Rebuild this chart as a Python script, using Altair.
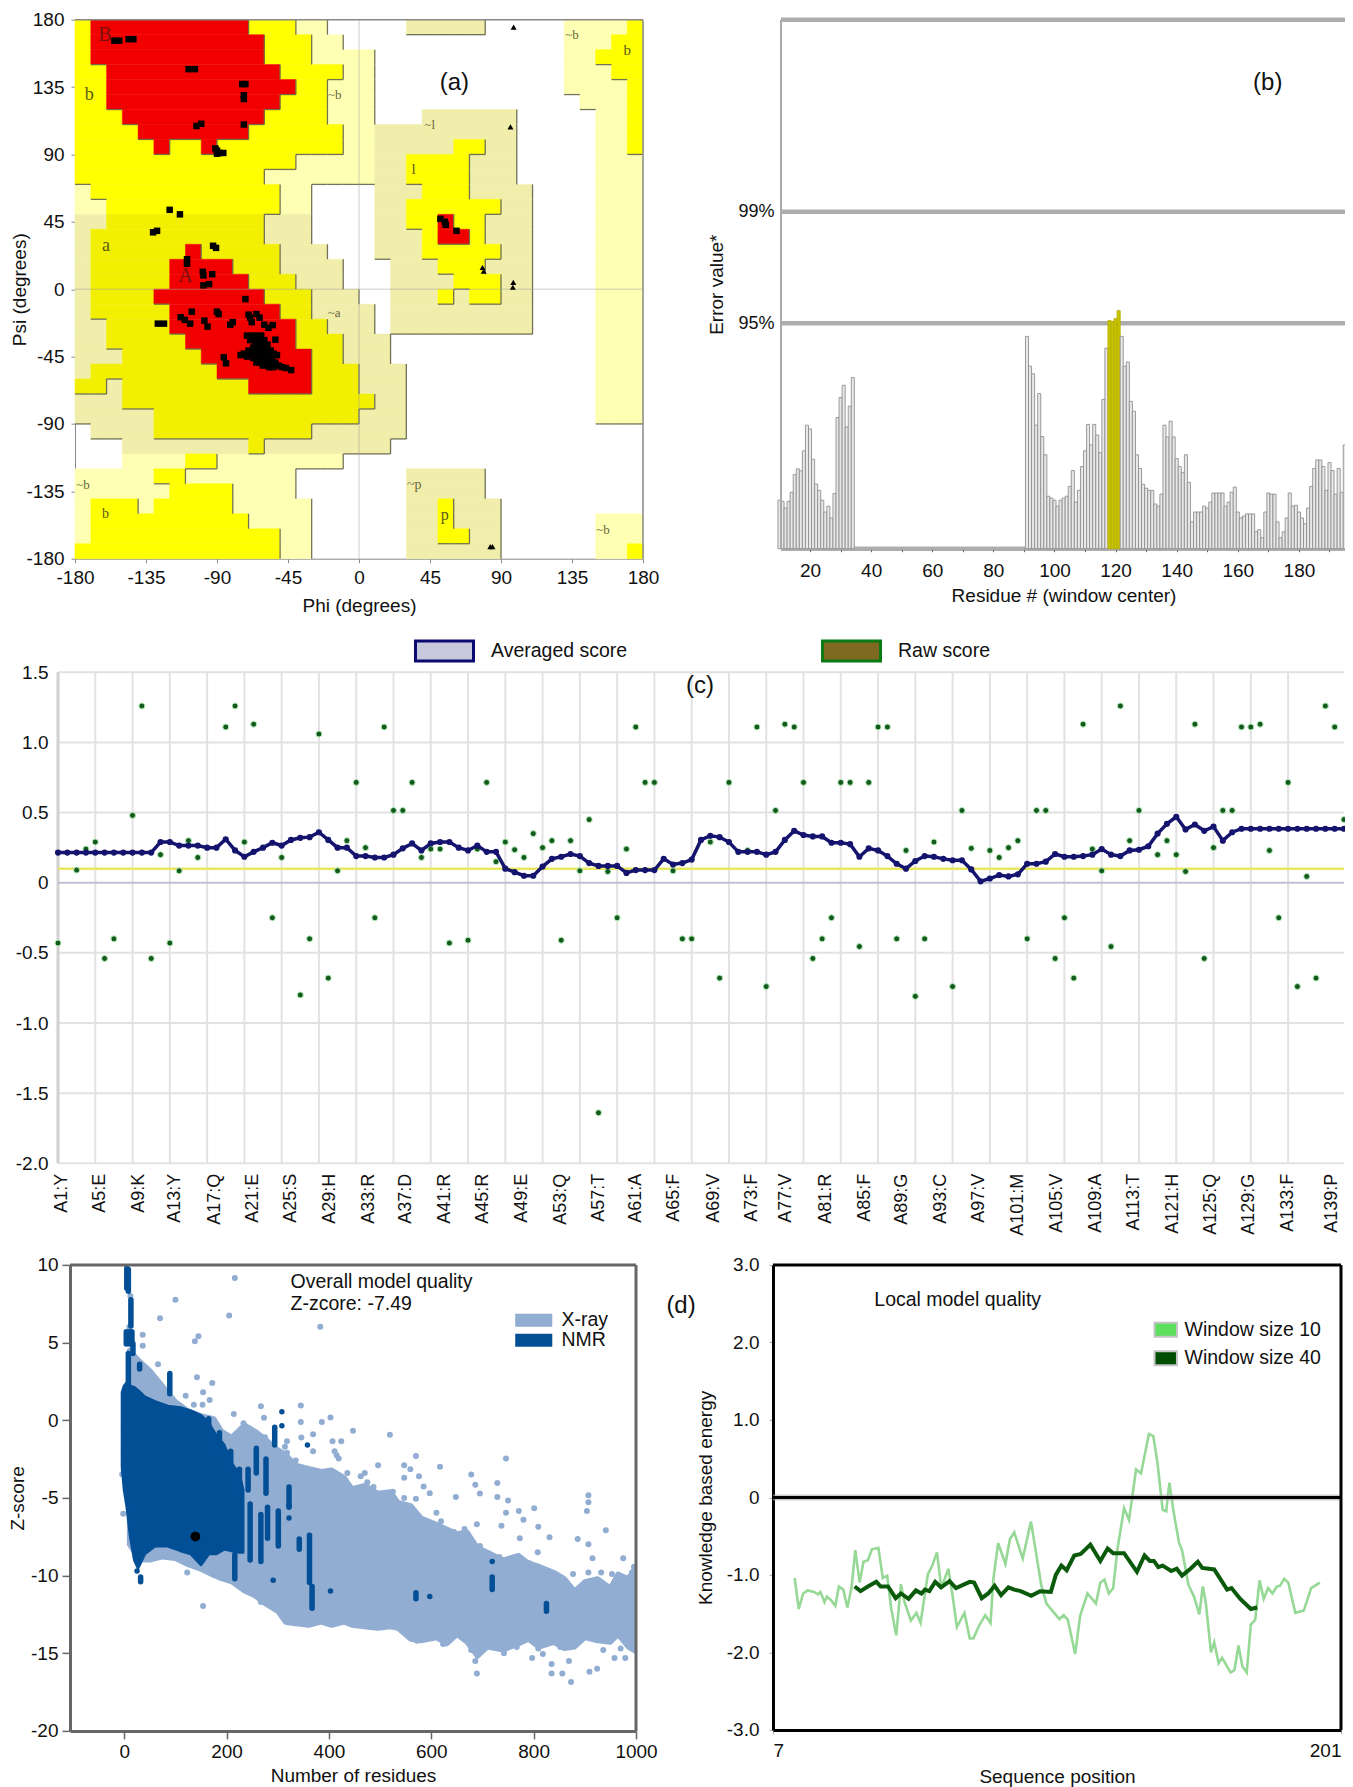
import altair as alt
import pandas as pd

FONT = "Liberation Sans"
SERIF = "Liberation Serif"

# ---------------- (a) Ramachandran plot ----------------
rama_rows = [
 (170, "Y-170 R-70 Y-40 P-20 W30 p80 W130 P170 Y180"),
 (160, "Y-170 R-60 Y-30 P-10 W130 P160 Y180"),
 (150, "Y-170 R-60 Y-30 P10 W130 P150 Y180"),
 (140, "Y-160 R-50 Y-10 P10 W130 P160 Y180"),
 (130, "Y-160 R-40 Y-20 P10 W130 P170 Y180"),
 (120, "Y-160 R-50 Y-20 P10 W140 P170 Y180"),
 (110, "Y-150 R-60 Y-20 P10 W40 p100 W150 P170 Y180"),
 (100, "Y-140 R-70 Y-10 P10 p100 W150 P170 Y180"),
 (90, "Y-130 R-120 Y-100 R-90 Y-10 P10 p60 Y80 p100 W150 P170 Y180"),
 (80, "Y-40 P10 p30 Y70 p100 W150 P180"),
 (70, "Y-60 P10 p30 Y70 p100 W150 P180"),
 (60, "P-170 Y-50 P-30 W10 p40 Y70 p110 W150 P180"),
 (50, "P-160 Y-50 P-30 W10 p30 Y90 p110 W150 P180"),
 (40, "p-160 y-60 p-30 W10 p30 Y50 R60 Y80 p110 W150 P180"),
 (30, "p-170 y-60 p-30 W10 p40 Y50 R70 Y80 p110 W150 P180"),
 (20, "p-170 y-110 R-100 y-50 p-20 W10 p40 Y90 p110 W150 P180"),
 (10, "p-170 y-120 R-80 y-50 p-10 W20 p50 Y80 p110 W150 P180"),
 (0, "p-170 y-120 R-70 y-40 p-10 W20 p60 Y90 p110 W150 P180"),
 (-10, "p-170 y-130 R-60 y-30 p0 W20 p50 Y60 p70 Y90 p110 W150 P180"),
 (-20, "p-170 y-120 R-50 y-30 p10 W20 p110 W150 P180"),
 (-30, "p-160 y-120 R-40 y-20 p10 W20 p110 W150 P180"),
 (-40, "p-160 y-110 R-40 y-10 p20 W150 P180"),
 (-50, "p-150 y-100 R-30 y-10 p20 W150 P180"),
 (-60, "p-170 y-90 R-30 y0 p30 W150 P180"),
 (-70, "y-160 p-150 y-70 R-30 y0 p30 W150 P180"),
 (-80, "p-150 y10 p30 W150 P180"),
 (-90, "p-130 y0 p30 W150 P180"),
 (-100, "W-170 p-130 y-30 p30 W180"),
 (-110, "W-150 p-70 y-60 p20 W180"),
 (-120, "W-150 P-110 Y-90 P-10 W180"),
 (-130, "P-130 Y-110 P-40 W30 p80 W180"),
 (-140, "P-120 Y-80 P-40 W30 p80 W180"),
 (-150, "P-170 Y-140 P-130 Y-80 P-30 W30 p50 Y60 p90 W180"),
 (-160, "P-170 Y-70 P-30 W30 p50 Y60 p90 W150 P180"),
 (-170, "P-170 Y-50 P-30 W30 p50 Y70 p90 W150 P180"),
 (-180, "Y-50 P-30 W30 p90 W150 P170 Y180"),
]
region_classes = ["R", "Y", "y", "P", "p"]
region_colors = ["#f20000", "#ffff00", "#f2f000", "#ffffb4", "#f0eeaa"]

residue_phi = [-155,-152,-146,-143,-108,-104,-74,-72,-73,-73,-103,-100,-73,-91,-90,-88.5,-86,-90,
 -120,-113.5,-130.5,-128,-92.5,-90.6,-109,-109,-99,-98.6,-93,-98.6,-95,-72,-127.5,-123.6,-113,-110.4,
 -107,-106,-98,-96,-90,-89,-81.6,-80,-70,-69,-68,-65,-63,-60,-57.4,-54.7,-53,
 -71,-68,-65,-62,-69,-66,-63,-60,-58,-64,-61,-67,-70,-73,-75,-68,-65,-62,-59,-56,-54,-71,-67,-64,-61,
 -58,-55,-52,-65,-62,-59,-56,-53,-61,-57,-54,-51,-60,-63,-66,-55.5,-49,-46.4,-43,-85.7,-84.3,
 51.6,54.4,55,61.8]
residue_psi = [166,166,167,167,147,147,137,137,129.5,127,109,110.5,110,94,90.5,91,91,92.6,
 53,50,38,39,29,27.6,20,17,11.6,9.2,10,2.6,3.4,-6.6,-23,-23,-18.7,-20.5,
 -23,-15,-21,-25,-15,-16.6,-23.7,-22,-17,-19,-22,-16.6,-19,-23.7,-25.8,-24,-33.7,
 -31,-31,-31,-31,-34,-35,-34,-34,-37,-37,-38,-39,-41,-43,-44,-43,-42,-41,-41,-41,-43,-45,-46,-46,-45,
 -45,-46,-44,-49,-49,-49,-50,-49,-51,-52,-52,-51,-44,-43,-40,-52,-52,-52.6,-54,-45.5,-49.5,
 47,45,43,39]
gly_phi = [98,96,97.8,97.5,83.2,84.6,78.3,79]
gly_psi = [175,108.4,4.5,1.3,-172,-172,14.5,12]
rama_labels = ["B","b","a","A","~b","~a","~l","l","~p","p","b","~b","~b","b","~b"]
rama_lab_phi = [-161,-171,-160.4,-110,-15.4,-15.7,44.8,34.6,35,54.4,-160.7,-175,135,170,154.7]
rama_lab_psi = [169.5,129.5,29,9,129.5,-15.8,109.5,80,-131,-150.8,-150,-130.5,169.5,159.7,-160.5]
rama_lab_size = [20,18,18,20,13,13,13,15,14,16,14,13,13,15,13]
rama_lab_color = ["#7a1010","#5a5a14","#5a5a14","#7a1010","#66663a","#66663a","#66663a","#5a5a14","#66663a","#5a5a14","#5a5a14","#66663a","#66663a","#5a5a14","#66663a"]

# ---------------- (b) ERRAT ----------------
errat_residue = list(range(10,35)) + list(range(91,196))
errat_value = [2.55,2.49,2.14,2.49,2.97,3.9,4.2,4.1,5.15,6.5,6.3,4.7,3.4,3.07,2.55,1.93,2.24,1.62,2.9,6.9,7.95,8.6,6.4,7.5,9.0,
 11.17,9.6,9.2,6.5,8.16,5.9,4.94,2.76,2.66,2.55,2.24,2.55,2.66,2.76,3.28,4.11,2.45,3.07,4.32,5.15,6.54,5.46,6.54,5.98,5.05,7.85,
 10.55,12.0,11.96,12.1,12.52,11.17,9.6,9.82,7.75,7.23,4.94,4.22,3.39,3.18,3.07,3.07,2.35,2.24,2.87,6.5,5.88,6.71,5.88,4.74,4.32,
 4.0,4.94,3.49,1.41,1.93,1.93,1.93,2.24,2.14,2.45,2.93,2.93,2.93,2.93,2.24,2.45,2.97,3.24,1.93,1.62,1.72,1.83,1.83,1.83,0.89,1.0,
 0.58,1.93,2.93,2.87,2.87,1.41,0.58,0.89,1.62,2.93,2.24,2.28,1.93,1.62,1.31,2.14,3.28,4.22,4.67,4.67,4.32,3.07,4.53,4.11,2.87,
 4.22,2.97,5.46]
errat_flagged = [118,119,120,121]
errat_thresholds = [0, 11.86, 17.72, 27.83]

# ---------------- (c) Verify3D ----------------
raw_idx = [0,2,3,4,5,6,8,9,10,11,12,13,14,15,18,19,20,21,23,24,26,27,28,29,30,31,32,33,34,35,36,37,38,39,40,41,42,44,45,46,47,48,49,50,
 51,52,53,54,55,56,57,58,59,60,61,62,63,64,66,67,68,70,71,72,74,75,76,77,78,79,80,81,82,83,84,85,86,87,88,89,90,91,92,93,94,96,97,98,
 100,101,102,103,104,105,106,107,108,109,110,111,112,113,114,115,116,118,119,120,121,122,123,124,125,126,127,128,129,130,131,132,133,134,135,136,137,138]
raw_score = [-.43,.09,.24,.29,-.54,-.40,.48,1.26,-.54,.20,-.43,.085,.30,.18,1.11,1.26,.29,1.13,-.25,.18,-.80,-.40,1.06,-.68,.085,.30,.715,.25,-.25,1.11,.515,.515,.715,.18,.24,.24,-.43,-.41,.24,.715,.15,.29,.235,.18,
 .35,.25,.30,-.41,.30,.085,.45,-1.64,.08,-.25,.24,1.11,.715,.715,.085,-.40,-.40,.29,-.68,.715,.23,1.11,-.74,.515,1.13,1.11,.715,-.54,-.40,-.25,.715,.715,-.455,.715,1.11,1.11,-.40,.23,-.81,-.40,.29,-.74,.515,.245,
 .23,.18,.25,.30,-.40,.515,.515,-.54,-.25,-.68,1.13,.24,.085,-.455,1.26,.30,.515,.20,.30,.20,.08,1.13,-.54,.25,.515,.515,1.11,1.11,1.13,.23,-.25,.715,-.74,.045,-.68,1.26,1.11,.45]
avg_score = [.215,.215,.215,.215,.215,.215,.215,.215,.215,.215,.215,.29,.29,.265,.265,.265,.25,.25,.31,.23,.185,.22,.25,.285,.265,.305,.32,.325,.36,.305,
 .25,.25,.19,.19,.18,.18,.20,.245,.28,.23,.28,.29,.29,.25,.23,.265,.22,.22,.10,.075,.05,.05,.115,.17,.185,.205,.19,.14,.12,.12,
 .12,.07,.09,.09,.09,.17,.13,.14,.165,.305,.335,.325,.29,.22,.22,.22,.20,.22,.305,.37,.34,.33,.33,.285,.285,.275,.185,.245,.23,.19,
 .135,.10,.155,.19,.185,.17,.16,.16,.095,.01,.03,.055,.045,.06,.135,.135,.15,.205,.185,.185,.19,.20,.24,.20,.19,.23,.235,.26,.35,.42,
 .47,.38,.415,.37,.40,.30,.36,.385,.385,.385,.385,.385,.385,.385,.385,.385,.385,.385,.385]
grid_idx = list(range(0,133,4))
residue_labels = ["A1:Y","A5:E","A9:K","A13:Y","A17:Q","A21:E","A25:S","A29:H","A33:R","A37:D","A41:R","A45:R","A49:E","A53:Q","A57:T","A61:A","A65:F",
 "A69:V","A73:F","A77:V","A81:R","A85:F","A89:G","A93:C","A97:V","A101:M","A105:V","A109:A","A113:T","A121:H","A125:Q","A129:G","A133:F","A139:P"]
label_pos = [.4,4.5,8.6,12.5,16.8,20.9,25,29.1,33.3,37.3,41.5,45.6,49.7,53.9,58,62,66,70.3,74.4,78.1,82.4,86.5,90.5,94.7,98.8,103,107.2,111.3,115.4,119.6,123.7,127.7,131.9,136.7]

# ---------------- (d, left) ProSA overall ----------------
xray_n  = [10,30,50,75,100,125,150,175,190,210,235,255,275,300,315,335,360,385,405,430,445,470,495,520,535,560,580,610,630,650,670,690,710,740,770,790,810,840,860,880,900,925,950,965,985,1000]
xray_hi = [4.5,3.8,3.2,2.2,1.2,.6,.3,.1,-.7,-1.1,-.3,-.7,-1.2,-1.9,-2.2,-2.9,-3.1,-3.3,-3.2,-3.7,-4.4,-4.2,-4.7,-4.6,-5.3,-5.5,-6.3,-6.7,-7.0,-7.3,-7.2,-8.2,-8.5,-9,-8.7,-9.2,-9.4,-9.8,-10.2,-11,-10.4,-10.2,-10.8,-9.9,-10.2,-9.4]
xray_lo = [-8,-9,-9,-8.8,-8.9,-9.3,-9.6,-10,-10.2,-10.4,-11,-11.3,-11.8,-12.3,-13,-13.1,-13.2,-13,-13.2,-13,-13.2,-13.3,-13.4,-13.3,-13.4,-14.1,-14.2,-14,-14.4,-13.8,-14.3,-15.2,-14.6,-14.8,-14.4,-14.1,-14.6,-14.3,-14.7,-14.6,-14,-14.2,-14.3,-13.8,-14.6,-14.9]
xray_pt_n = [216,100,70,205,383,36,36,145,138,66,142,172,120,154,167,136,153,267,345,403,386,345,273,214,447,519,570,746,617,678,547,559,496,470,475,424,407,369,346,318,314,415,419,547,576,585,597,570,610,686,729,729,695,648,750,771,746,801,737,780,809,689,773,831,808,907,907,904,941,886,907,915,975,996,-4,-2,154,686,689,797,835,856,873,909,924,958,979,742,818,835,869,678,12,10,16,
 233,246,258,275,292,318,335,369,411,436,462,487,525,547,576,619,644,665,695,733,758,792,822,877,907,932,953,992,
 606,572,623,678,716,767,809,852,894,936,970,479,318,267,123,148]
xray_pt_z = [9.15,7.75,6.56,6.74,6.02,5.5,4.8,5.4,5.08,3.6,2.76,2.4,1.57,1.8,1.3,1,1,.9,.94,.18,-.11,-.11,.16,.4,-.67,-.94,-2.31,-2.47,-3,-3.5,-2.9,-3.15,-2.9,-3.4,-4,-1.35,-1.35,-.9,-1.12,-1.35,-1.7,-2.25,-2.47,-3.7,-3.6,-4.27,-4.7,-5.06,-5.96,-4.16,-4.04,-4.94,-4.72,-4.94,-5.17,-5.84,-5.96,-5.66,-6.8,-6.4,-6.85,-6.7,-7.6,-7.53,-8.5,-4.83,-5.28,-5.84,-7.08,-7.64,-7.98,-8.88,-8.88,-9.44,-3.48,-6.02,-11.96,-15.5,-16.3,-15.3,-16.3,-16.3,-16.85,-16.2,-16,-15.3,-15.3,-15,-15.05,-15.7,-15.5,-14.8,8,6,5,
 -.2,-.56,-.8,-1.1,-2,-2.1,-2.6,-2,-2,-3.4,-3.6,-4.3,-4.6,-5,-6.2,-6.5,-7.2,-7,-8.1,-8.8,-9,-9.2,-9.7,-9.9,-9.8,-9.8,-9.9,-9.8,
 -13.9,-14.2,-14.4,-14.4,-14.4,-14.6,-14.7,-14.6,-13.9,-14.8,-14.7,-13.3,-12.8,-11.7,-9.8,-9.4]
nmr_n  = [-4,0,5,12,20,27,40,60,85,110,130,150,165,180,195,210,225,232]
nmr_hi = [1.8,2.2,2.4,2.2,2.1,1.9,1.5,1.2,.9,.8,.6,.3,-.2,-1,-1.6,-2.8,-3.5,-4.5]
nmr_lo = [-3,-4.5,-5.5,-7.5,-9,-9.5,-8.6,-8.1,-8.1,-8.4,-8.6,-9.3,-8.6,-8.6,-8.3,-8.4,-8.5,-8.5]
nmr_col_n  = [5,8,13,4,10,15,17,8,30,89,165,186,208,225,242,258,277,294,322,246,267,280,301,342,362,367,216,719,825,32,570]
nmr_col_hi = [9.8,9.7,7.75,5.7,5.7,5.7,4.9,4.3,3.6,3,.1,-.8,-2,-3.15,-3.15,-1.8,-2.5,-.45,-4.3,-5.4,-6.07,-5.6,-5.84,-7.64,-7.4,-10.7,-8.65,-10.1,-11.8,-10.1,-11.1]
nmr_col_lo = [8.5,8.3,6.07,4.9,4.9,4.9,4.3,2,3.3,1.7,-2,-2.2,-2.9,-4.7,-4.5,-3.4,-4.7,-1.6,-5.6,-9,-9.1,-7.6,-8.1,-8.3,-10.45,-12.1,-10.2,-10.9,-12.3,-10.4,-11.5]
nmr_pt_n = [291,403,597,719,358,308,308,322,322,25]
nmr_pt_z = [-10.3,-11,-11.35,-9.1,-1.6,.55,-.35,-6.3,-5.5,-9.7]
model_n = [139]
model_z = [-7.49]

# ---------------- (d, right) ProSA local ----------------
w10_pos = [14.4,15.8,17.3,18.8,21,22.4,23.2,24.6,25.4,26.9,28.3,29.5,31,32.4,33.8,35.1,36.6,37.9,39.4,40.8,43,44.5,46,47.4,49.1,50.7,51.9,54.1,56,57.4,59.9,61.4,63,64.5,66.9,68.3,69.8,72.4,74.2,75.4,77.6,79.5,81.3,82.3,83.9,86.4,87.9,89.4,92.3,95.1,96.7,98.6,100.4,104.8,106.3,107.7,110.2,111.9,114.4,117.3,118.8,120.2,121.7,123.2,124.6,126.9,128.6,131,132.7,135.4,136.9,138.3,140.1,141.3,142.4,143.8,145.7,146.7,148.9,150.8,152.6,153.8,154.8,156.6,157.7,159.2,160.4,163.3,164.6,166,167.3,168.8,170.2,171.7,173.2,174.6,176.1,177.6,179.1,180.2,181.6,183,185.4,188.3,190.8,193.8]
w10_val = [-1.04,-1.44,-1.24,-1.20,-1.22,-1.25,-1.22,-1.35,-1.28,-1.33,-1.40,-1.15,-1.19,-1.42,-1.17,-.68,-1.10,-.83,-.81,-.67,-.65,-1.04,-1.01,-1.44,-1.78,-1.12,-1.35,-1.59,-1.49,-1.62,-.99,-.88,-.71,-1.17,-.92,-1.26,-1.67,-1.49,-1.82,-1.82,-1.64,-1.52,-1.62,-1.04,-.59,-.86,-.54,-.45,-.79,-.31,-.68,-1.13,-1.37,-1.57,-1.52,-1.58,-2.02,-1.53,-1.24,-1.37,-1.10,-1.06,-1.24,-1.17,-.68,-.14,-.29,.36,.31,.82,.79,.45,-.16,-.18,.19,-.18,-.59,-.68,-1.13,-1.28,-1.51,-1.15,-1.35,-2.0,-1.87,-2.14,-2.07,-2.26,-2.23,-1.91,-2.18,-2.26,-1.64,-1.58,-1.07,-1.31,-1.17,-1.24,-1.15,-1.14,-1.05,-1.10,-1.49,-1.46,-1.17,-1.10]
w40_pos = [34.9,36.9,39.4,42.3,43.8,46.3,48.9,50.7,53.3,55.8,57.7,58.9,60.4,62.4,64.4,67.3,69.5,74.2,75.7,78.3,80.5,82.7,84.9,87.4,89.4,91.6,95.2,98.2,101.9,103.6,105.5,107.3,109.9,112.1,115.4,118.8,121.3,123.2,126.9,131.3,133.9,135.7,137.1,138.6,140.1,143,144.9,146.7,149.6,152.1,153.6,157.7,162.1,163.6,166.6,170.2,172.4]
w40_val = [-1.15,-1.21,-1.15,-1.09,-1.15,-1.15,-1.30,-1.24,-1.31,-1.20,-1.24,-1.19,-1.21,-1.09,-1.16,-1.08,-1.17,-1.09,-1.10,-1.30,-1.24,-1.14,-1.26,-1.16,-1.19,-1.21,-1.27,-1.21,-1.22,-1.0,-.88,-.94,-.75,-.73,-.61,-.82,-.66,-.72,-.72,-.96,-.75,-.82,-.82,-.90,-.88,-.95,-.92,-1.01,-.92,-.83,-.91,-.93,-1.19,-1.17,-1.31,-1.44,-1.42]


def axis(**kw):
    base = dict(labelFont=FONT, titleFont=FONT, labelFontSize=19, titleFontSize=19, labelColor="#111",
                titleColor="#111", titleFontWeight="normal", grid=False, labelOverlap=False,
                labelSeparation=0, labelFlush=False)
    base.update(kw)
    return alt.Axis(**base)


class Panel:
    """Scales and axes shared by all layers of one panel."""
    def __init__(self, xs, ys, xa, ya, xspan):
        self.xs, self.ys, self.xa, self.ya, self.xspan = xs, ys, xa, ya, xspan

    def X(self, f="x:Q"):
        return alt.X(f, scale=self.xs, axis=self.xa)

    def Y(self, f="y:Q"):
        return alt.Y(f, scale=self.ys, axis=self.ya)

    def vline(self, vals, **mk):
        return alt.Chart(pd.DataFrame({"x": vals})).mark_rule(**mk).encode(x=self.X())

    def hline(self, vals, **mk):
        df = pd.DataFrame({"y": vals, "xa": self.xspan[0], "xb": self.xspan[1]})
        return alt.Chart(df).mark_rule(**mk).encode(x=self.X("xa:Q"), x2="xb", y=self.Y())

    def note(self, x, y, text, size=24, align="center"):
        return alt.Chart(pd.DataFrame({"x": [x], "y": [y], "t": [text]})).mark_text(
            font=FONT, fontSize=size, color="#111", align=align, baseline="middle"
        ).encode(x=self.X(), y=self.Y(), text="t:N")

    def legend(self, names, xv, yv, fills, strokes, path, size, stroke_w, lx, ly, **kw):
        leg = alt.Legend(title=None, orient="none", legendX=lx, legendY=ly, symbolType=path, symbolSize=size,
                         symbolOpacity=1, symbolStrokeWidth=stroke_w, labelFont=FONT, labelFontSize=19.5,
                         labelColor="#111", **kw)
        df = pd.DataFrame({"s": names, "x": xv, "y": yv})
        return alt.Chart(df).mark_point(opacity=0, filled=True, size=1).encode(
            x=self.X(), y=self.Y(),
            fill=alt.Fill("s:N", scale=alt.Scale(domain=names, range=fills), legend=leg),
            stroke=alt.Stroke("s:N", scale=alt.Scale(domain=names, range=strokes), legend=leg),
        )


# ---------- panel a ----------
rank = {"W": 0, "P": 1, "p": 1, "Y": 2, "y": 2, "R": 3}
rects, cells = [], {}
for psi, spec in rama_rows:
    start = -180
    for tok in spec.split():
        cls, end = tok[0], int(tok[1:])
        if cls != "W":
            rects.append(dict(x0=start, x1=end, y0=psi, y1=psi + 10, cls=cls))
        for phi in range(start, end, 10):
            cells[(phi, psi)] = cls
        start = end
edges = []
for (phi, psi), c in cells.items():
    r = rank[c]
    if psi > -180 and r > rank[cells[(phi, psi - 10)]]:
        edges.append(dict(x0=phi, x1=phi + 10, y0=psi, y1=psi))
    if phi < 170 and r > rank[cells[(phi + 10, psi)]]:
        edges.append(dict(x0=phi + 10, x1=phi + 10, y0=psi, y1=psi + 10))

ticks45 = list(range(-180, 181, 45))
A = Panel(alt.Scale(domain=[-180, 180], nice=False, range=[17, 585]), alt.Scale(domain=[-180, 180], nice=False),
          axis(title="Phi (degrees)", values=ticks45, labelExpr="''+datum.value", domainColor="#888",
               tickColor="#888", tickSize=4, labelPadding=6, titlePadding=9),
          axis(title="Psi (degrees)", values=ticks45, labelExpr="''+datum.value", domainColor="#888",
               tickColor="#888", tickSize=4, labelPadding=7, titlePadding=-4, offset=-17), (-180, 180))
a_rect = alt.Chart(pd.DataFrame(rects)).mark_rect(strokeWidth=0.5).encode(
    x=A.X("x0:Q"), x2="x1", y=A.Y("y0:Q"), y2="y1",
    fill=alt.Fill("cls:N", scale=alt.Scale(domain=region_classes, range=region_colors), legend=None),
    stroke=alt.Stroke("cls:N", scale=alt.Scale(domain=region_classes, range=region_colors), legend=None),
)
a_edge = alt.Chart(pd.DataFrame(edges)).mark_rule(color="#5c5c48", strokeWidth=1.3, opacity=0.85).encode(
    x=A.X("x0:Q"), x2="x1", y=A.Y("y0:Q"), y2="y1")
a_lab = alt.Chart(pd.DataFrame({"x": rama_lab_phi, "y": rama_lab_psi, "t": rama_labels, "s": rama_lab_size,
                                "c": rama_lab_color})).mark_text(font=SERIF).encode(
    x=A.X(), y=A.Y(), text="t:N", size=alt.Size("s:Q", scale=None), color=alt.Color("c:N", scale=None))
a_res = alt.Chart(pd.DataFrame({"x": residue_phi, "y": residue_psi})).mark_square(
    size=42, color="#000", opacity=1).encode(x=A.X(), y=A.Y())
a_gly = alt.Chart(pd.DataFrame({"x": gly_phi, "y": gly_psi})).mark_point(
    shape="triangle-up", filled=True, size=36, color="#000", opacity=1).encode(x=A.X(), y=A.Y())
panel_a = alt.layer(a_rect, a_edge,
                    A.vline([0], color="#999", strokeWidth=1, opacity=0.5),
                    A.hline([0], color="#999", strokeWidth=1, opacity=0.5),
                    A.hline([180], color="#888", strokeWidth=1.5),
                    A.vline([180], color="#888", strokeWidth=1.5),
                    a_lab, a_res, a_gly, A.note(60.4, 138, "(a)")).properties(width=585, height=539)

# ---------- panel b ----------
B = Panel(alt.Scale(domain=[10.5, 195.4], nice=False), alt.Scale(domain=[0, 27.83], nice=False),
          axis(title="Residue # (window center)", values=list(range(10, 191, 10)), domain=False,
               labelExpr="datum.value % 20 == 0 ? ''+datum.value : ''",
               tickColor="#555", tickSize=3, labelPadding=10, titlePadding=6),
          axis(title="Error value*", values=[11.86, 17.72], domain=False, ticks=False,
               labelExpr="datum.value < 12 ? '95%' : '99%'", labelPadding=7, titlePadding=11, labelFontSize=18),
          (10.5, 195.4))
b_df = pd.DataFrame({"r": errat_residue, "v": errat_value})
b_df["r0"] = b_df.r - 0.5
b_df["r1"] = (b_df.r + 0.5).clip(upper=195.4)
b_df["zero"] = 0.0
b_df["flag"] = b_df.r.isin(errat_flagged).map({True: "flag", False: "ok"})
b_bar = alt.Chart(b_df).mark_rect(strokeWidth=0.9).encode(
    x=B.X("r0:Q"), x2="r1", y=B.Y("zero:Q"), y2="v",
    fill=alt.Fill("flag:N", scale=alt.Scale(domain=["ok", "flag"], range=["#e8e8e8", "#c9c400"]), legend=None),
    stroke=alt.Stroke("flag:N", scale=alt.Scale(domain=["ok", "flag"], range=["#909090", "#b5b000"]), legend=None),
)
panel_b = alt.layer(B.hline(errat_thresholds, color="#999", strokeWidth=4.5, opacity=0.8), b_bar,
                    B.vline([10.5], color="#aaa", strokeWidth=2),
                    B.note(169.8, 24.5, "(b)")).properties(width=565, height=529)

# ---------- panel c ----------
lab_js = "[" + ",".join("'%s'" % s for s in residue_labels) + "]"
pos_js = "[" + ",".join(str(p) for p in label_pos) + "]"
C = Panel(alt.Scale(domain=[0, 138], nice=False), alt.Scale(domain=[-2, 1.5], nice=False),
          axis(title=None, values=label_pos, ticks=False, domain=False,
               labelExpr=lab_js + "[indexof(" + pos_js + ",datum.value)]",
               labelAngle=270, labelAlign="right", labelBaseline="middle", labelPadding=10, labelFontSize=18),
          axis(title=None, values=[-2, -1.5, -1, -.5, 0, .5, 1, 1.5], domain=False, ticks=False, labelPadding=10,
               labelExpr="datum.value==0?'0':(datum.value<0?'-':'')+format(abs(datum.value),'.1f')"),
          (0, 138))
c_raw = alt.Chart(pd.DataFrame({"x": raw_idx, "y": raw_score})).mark_circle(
    size=36, color="#125a1e", opacity=1, stroke="#b9ecb9", strokeWidth=1).encode(x=C.X(), y=C.Y())
avg_df = pd.DataFrame({"x": list(range(len(avg_score))), "y": avg_score})
c_line = alt.Chart(avg_df).mark_line(color="#14146e", strokeWidth=3.5).encode(x=C.X(), y=C.Y())
c_avg = alt.Chart(avg_df).mark_circle(size=38, color="#14146e", opacity=1).encode(x=C.X(), y=C.Y())
c_leg = C.legend(["Averaged score", "Raw score"], [0, 1], [.215, -.43], ["#c8c8dc", "#7d6a20"], ["#0a0a70", "#0a7a14"],
                 "M-2.9,-1H2.9V1H-2.9Z", 400, 3, 366, -42, columns=2, columnPadding=188, labelOffset=35, gridAlign="each",
                 padding=9)
panel_c = alt.layer(C.vline(grid_idx, color="#e2e2e2", strokeWidth=2),
                    C.hline([-2, -1.5, -1, -.5, .5, 1, 1.5], color="#e2e2e2", strokeWidth=2),
                    C.vline([0], color="#d0d0d0", strokeWidth=3),
                    C.hline([0], color="#c0c0d4", strokeWidth=2),
                    C.hline([0.1], color="#e8e860", strokeWidth=2.5),
                    c_raw, c_line, c_avg, c_leg,
                    C.note(68.9, 1.40, "(c)")).properties(width=1286, height=491)

# ---------- panel e (overall quality) ----------
XR, NM = "#91add2", "#024f96"
E = Panel(alt.Scale(domain=[-106, 1000], nice=False, range=[12, 578]), alt.Scale(domain=[-20, 10], nice=False),
          axis(title="Number of residues", values=list(range(0, 1001, 200)), tickSize=8, domainColor="#666",
               domainWidth=3, tickColor="#666", tickWidth=1.5, labelPadding=4, titlePadding=5, labelExpr="''+datum.value"),
          axis(title="Z-score", values=list(range(-20, 11, 5)), tickSize=8, domainColor="#666", domainWidth=3,
               tickColor="#666", tickWidth=1.5, labelPadding=4, titlePadding=3, labelExpr="''+datum.value", offset=-12),
          (-106, 1000))
e_area = alt.Chart(pd.DataFrame({"x": xray_n, "y": xray_hi, "y2": xray_lo})).mark_area(
    color=XR, stroke=XR, strokeWidth=5, strokeJoin="round", clip=True).encode(x=E.X(), y=E.Y(), y2="y2")
e_xpts = alt.Chart(pd.DataFrame({"x": xray_pt_n, "y": xray_pt_z})).mark_circle(size=36, color=XR, opacity=1).encode(x=E.X(), y=E.Y())
e_nmr = alt.Chart(pd.DataFrame({"x": nmr_n, "y": nmr_hi, "y2": nmr_lo})).mark_area(
    color=NM, stroke=NM, strokeWidth=3, strokeJoin="round").encode(x=E.X(), y=E.Y(), y2="y2")
e_cols = alt.Chart(pd.DataFrame({"x": nmr_col_n, "y": nmr_col_hi, "y2": nmr_col_lo})).mark_rule(
    color=NM, strokeWidth=5.5, strokeCap="round").encode(x=E.X(), y=E.Y(), y2="y2")
e_npts = alt.Chart(pd.DataFrame({"x": nmr_pt_n, "y": nmr_pt_z})).mark_circle(size=30, color=NM, opacity=1).encode(x=E.X(), y=E.Y())
e_model = alt.Chart(pd.DataFrame({"x": model_n, "y": model_z})).mark_circle(size=95, color="#000", opacity=1).encode(x=E.X(), y=E.Y())
e_leg = E.legend(["X-ray", "NMR"], [0, 0], [0, 0], [XR, NM], [XR, NM], "M-2.85,-1H2.85V1H-2.85Z", 169, 0, 466, 45.5,
                 rowPadding=-2, labelOffset=18)
panel_e = alt.layer(e_area, e_xpts, e_nmr, e_cols, e_npts, e_model,
                    E.hline([10], color="#666", strokeWidth=3), E.vline([1000], color="#666", strokeWidth=3),
                    E.hline([10.85], opacity=0, color="#fff"),
                    e_leg,
                    E.note(325, 8.9, "Overall model quality", 19.5, "left"),
                    E.note(325, 7.5, "Z-zcore: -7.49", 19.5, "left"),
                    E.note(1088, 7.35, "(d)")).properties(width=578, height=466)

# ---------- panel d (local quality) ----------
D = Panel(alt.Scale(domain=[7, 201], nice=False), alt.Scale(domain=[-3, 3], nice=False),
          axis(title="Sequence position", values=[7, 201], domainColor="#000", domainWidth=3, tickColor="#aaa",
               tickSize=4, labelPadding=8, titlePadding=7, labelFlush=True),
          axis(title="Knowledge based energy", values=[-3, -2, -1, 0, 1, 2, 3], domainColor="#000", domainWidth=3,
               tickColor="#aaa", tickSize=4, labelPadding=10, titlePadding=11,
               labelExpr="datum.value==0?'0':(datum.value<0?'-':'')+format(abs(datum.value),'.1f')"),
          (7, 201))
d_w10 = alt.Chart(pd.DataFrame({"x": w10_pos, "y": w10_val})).mark_line(color="#96d896", strokeWidth=2.6).encode(x=D.X(), y=D.Y())
d_w40 = alt.Chart(pd.DataFrame({"x": w40_pos, "y": w40_val})).mark_line(color="#0b5a0b", strokeWidth=4).encode(x=D.X(), y=D.Y())
d_leg = D.legend(["Window size 10", "Window size 40"], [14.4, 34.9], [-1.04, -1.15], ["#5de05d", "#004d00"],
                 ["#c4c4c4", "#c4c4c4"], "M-1.6,-1H1.6V1H-1.6Z", 196, 2, 383, 55, rowPadding=5.7, labelOffset=9)
panel_d = alt.layer(d_w10, d_w40,
                    D.hline([0], color="#aaa", strokeWidth=6, opacity=0.6),
                    D.hline([0], color="#000", strokeWidth=3),
                    D.hline([3], color="#000", strokeWidth=3),
                    D.vline([201], color="#000", strokeWidth=3),
                    d_leg,
                    D.note(41.6, 2.55, "Local model quality", 19.5, "left")).properties(width=568, height=465)

IND = dict(fill="independent", stroke="independent")
row1 = alt.hconcat(panel_a, panel_b, spacing=138, bounds="flush").resolve_scale(**IND)
row3 = alt.hconcat(panel_e, panel_d, spacing=137, bounds="flush").resolve_scale(**IND)
chart = alt.vconcat(row1, panel_c, row3, spacing=14.6).resolve_scale(**IND).properties(
    padding={"left": 0, "top": 2.7, "right": -6.5, "bottom": 0}
).configure_view(stroke=None)

chart.save("out.html", embed_options={"renderer": "svg", "actions": False})
